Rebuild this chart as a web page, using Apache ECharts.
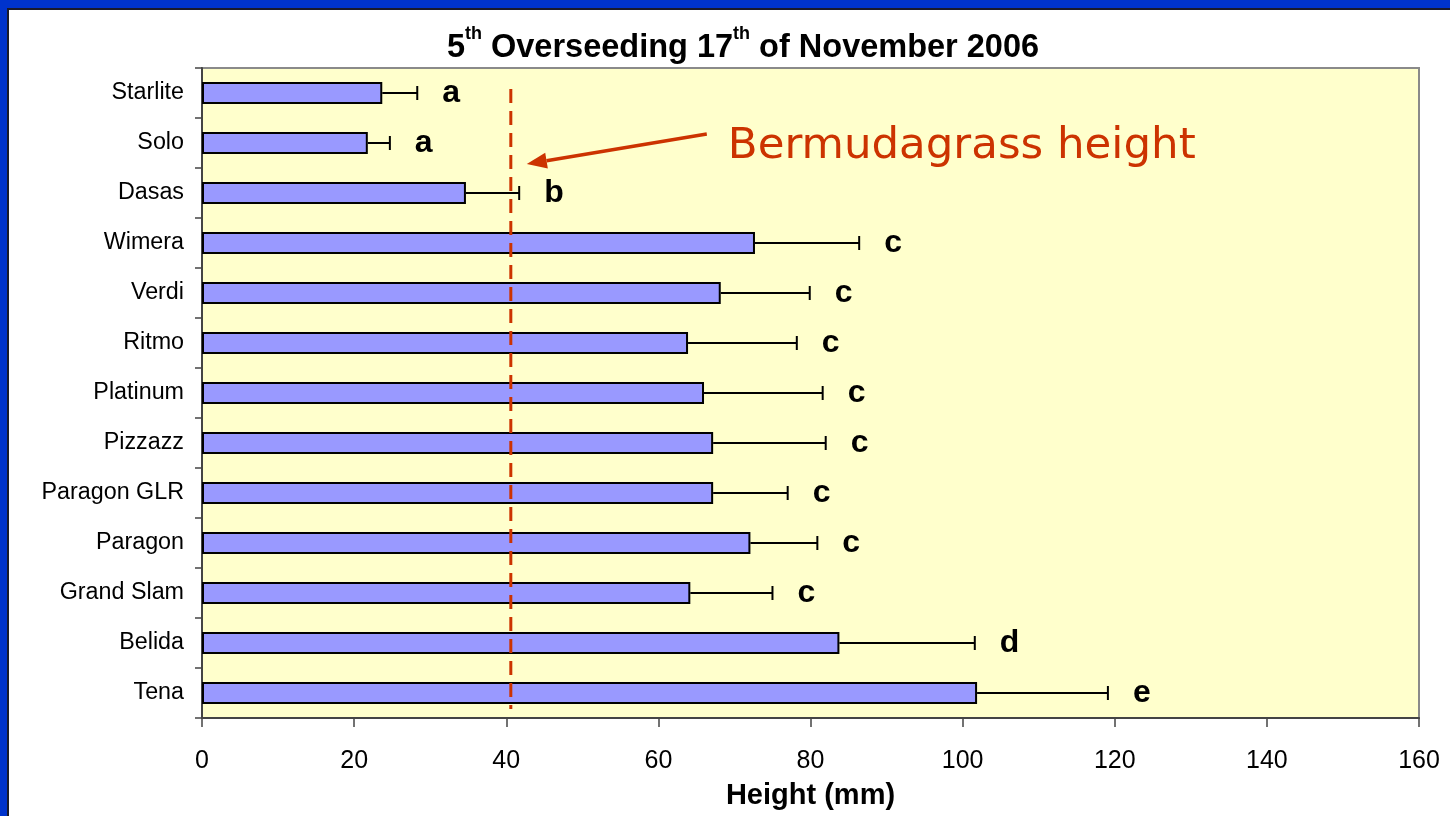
<!DOCTYPE html>
<html>
<head>
<meta charset="utf-8">
<script src="https://cdn.jsdelivr.net/npm/echarts@6/dist/echarts.min.js"></script>
<style>
  html, body { margin: 0; padding: 0; width: 1450px; height: 816px; background: #0033CC; overflow: hidden; }
  #frame { position: absolute; left: 7px; top: 8px; width: 1443px; height: 808px; background: #fff; border-left: 2px solid #1a1a2a; border-top: 2px solid #1a1a2a; box-sizing: border-box; }
  #chart { position: absolute; left: 0; top: 0; width: 1441px; height: 806px; }
</style>
</head>
<body>
<div id="frame"><div id="chart"></div></div>
<script>
// ---- data ----
const categories = ['Starlite', 'Solo', 'Dasas', 'Wimera', 'Verdi', 'Ritmo', 'Platinum', 'Pizzazz', 'Paragon GLR', 'Paragon', 'Grand Slam', 'Belida', 'Tena'];
const meanHeight = [23.7, 21.8, 34.7, 72.7, 68.2, 63.9, 66.0, 67.2, 67.2, 72.1, 64.2, 83.8, 101.9];
const stdError = [4.6, 2.9, 7.0, 13.7, 11.7, 14.3, 15.6, 14.8, 9.8, 8.8, 10.8, 17.8, 17.2];
const groupLetters = ['a', 'a', 'b', 'c', 'c', 'c', 'c', 'c', 'c', 'c', 'c', 'd', 'e'];
const bermudagrassHeight = 40.6;
const xTicks = [0, 20, 40, 60, 80, 100, 120, 140, 160];
const titleText = '{n|5}{s|th}{n| Overseeding 17}{s|th}{n| of November 2006}';
const annotationText = 'Bermudagrass height';
const xAxisName = 'Height (mm)';

const errData = meanHeight.map((m, i) => [i, m, m + stdError[i]]);
const letterData = meanHeight.map((m, i) => [i, m + stdError[i], groupLetters[i]]);

const chart = echarts.init(document.getElementById('chart'), null, { renderer: 'canvas' });
const FONT = '"Liberation Sans", Arial, sans-serif';
const RED = '#CC3300';

chart.setOption({
  animation: false,
  title: {
    text: titleText,
    left: 729,
    top: 10,
    textAlign: 'center',
    textStyle: {
      rich: {
        n: { fontFamily: FONT, fontWeight: 'bold', fontSize: 32.5, color: '#000', lineHeight: 40, verticalAlign: 'bottom' },
        s: { fontFamily: FONT, fontWeight: 'bold', fontSize: 18, color: '#000', lineHeight: 40, verticalAlign: 'top', padding: [0, 0, 14, 0] }
      }
    }
  },
  grid: {
    left: 193, top: 58, width: 1217, height: 650,
    show: true, backgroundColor: '#FFFFCC', borderColor: '#8a8a8a', borderWidth: 2
  },
  xAxis: {
    type: 'value', min: 0, max: 160, interval: 20,
    name: xAxisName, nameLocation: 'middle', nameGap: 63,
    nameTextStyle: { fontFamily: FONT, fontWeight: 'bold', fontSize: 29, color: '#000' },
    axisLine: { show: true, lineStyle: { color: '#444', width: 2 } },
    axisTick: { show: true, length: 9, lineStyle: { color: '#444', width: 1.5 } },
    axisLabel: { margin: 31, fontFamily: FONT, fontSize: 25, color: '#000',
      formatter: v => xTicks.includes(v) ? String(v) : '' },
    splitLine: { show: false }
  },
  yAxis: {
    type: 'category', data: categories, inverse: true,
    axisLine: { show: true, lineStyle: { color: '#444', width: 2 } },
    axisTick: { show: true, length: 7, lineStyle: { color: '#444', width: 1.5 } },
    axisLabel: { margin: 18, fontFamily: FONT, fontSize: 23.3, color: '#000' },
    splitLine: { show: false }
  },
  series: [
    {
      type: 'bar',
      data: meanHeight,
      barWidth: 22,
      itemStyle: { color: '#9999FF', borderColor: '#000', borderWidth: 2 },
      z: 2
    },
    {
      type: 'custom',
      data: errData,
      z: 3,
      renderItem: function (params, api) {
        const p0 = api.coord([api.value(1), api.value(0)]);
        const p1 = api.coord([api.value(2), api.value(0)]);
        const cap = 7;
        return {
          type: 'group',
          children: [
            { type: 'line', shape: { x1: p0[0], y1: p0[1], x2: p1[0], y2: p1[1] }, style: { stroke: '#000', lineWidth: 2 } },
            { type: 'line', shape: { x1: p1[0], y1: p1[1] - cap, x2: p1[0], y2: p1[1] + cap }, style: { stroke: '#000', lineWidth: 2 } }
          ]
        };
      },
      encode: { x: [1, 2], y: 0 }
    },
    {
      type: 'custom',
      data: letterData,
      z: 4,
      renderItem: function (params, api) {
        const p = api.coord([api.value(1), api.value(0)]);
        return {
          type: 'text',
          x: p[0] + 25, y: p[1],
          style: { text: groupLetters[params.dataIndex], fontFamily: FONT, fontWeight: 'bold', fontSize: 32, fill: '#000', textAlign: 'left', textVerticalAlign: 'middle' }
        };
      },
      encode: { x: 1, y: 0 }
    },
    {
      // dashed Bermudagrass height reference line
      type: 'custom',
      data: [[bermudagrassHeight]],
      z: 5,
      silent: true,
      renderItem: function (params, api) {
        const top = api.coord([api.value(0), 0]);
        const bot = api.coord([api.value(0), categories.length - 1]);
        return {
          type: 'line',
          shape: { x1: top[0], y1: top[1] - 4, x2: bot[0], y2: bot[1] + 16 },
          style: { stroke: RED, lineWidth: 3, lineDash: [14, 8] }
        };
      },
      encode: { x: 0 }
    }
  ]
});

// annotation: text + arrow pointing to the dashed Bermudagrass line
const c1 = chart.convertToPixel({ gridIndex: 0 }, [bermudagrassHeight, 1]);
const tip = [chart.convertToPixel({ xAxisIndex: 0 }, bermudagrassHeight + 2.1), c1[1] + 21];
const tail = [tip[0] + 180, tip[1] - 30];
const dx = tip[0] - tail[0], dy = tip[1] - tail[1];
const len = Math.sqrt(dx * dx + dy * dy);
const ux = dx / len, uy = dy / len;
const headLen = 20, headHalf = 8;
const base = [tip[0] - ux * headLen, tip[1] - uy * headLen];
chart.setOption({
  graphic: [
    { type: 'line', z: 10, shape: { x1: tail[0], y1: tail[1], x2: base[0], y2: base[1] }, style: { stroke: RED, lineWidth: 3.5 } },
    { type: 'polygon', z: 10, shape: { points: [tip, [base[0] - uy * headHalf, base[1] + ux * headHalf], [base[0] + uy * headHalf, base[1] - ux * headHalf]] }, style: { fill: RED } },
    { type: 'text', z: 10, x: tail[0] + 21, y: tail[1] + 13, style: { text: annotationText, fontFamily: '"DejaVu Sans", Verdana, sans-serif', fontSize: 43.5, fill: RED, textAlign: 'left', textVerticalAlign: 'middle' } }
  ]
});
</script>
</body>
</html>
